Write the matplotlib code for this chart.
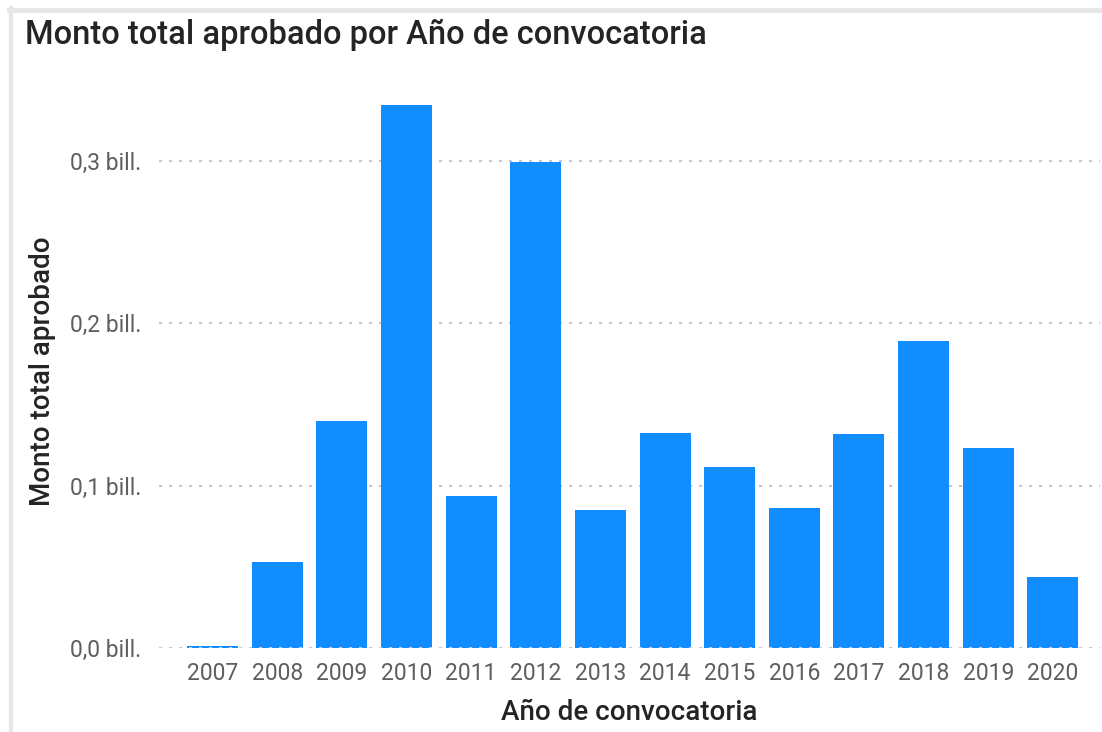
import matplotlib.pyplot as plt
from matplotlib.lines import Line2D

plt.rcParams["font.family"] = ["Roboto", "DejaVu Sans"]

years = ["2007", "2008", "2009", "2010", "2011", "2012", "2013",
         "2014", "2015", "2016", "2017", "2018", "2019", "2020"]
# monto total aprobado, en billones
montos = [0.001, 0.053, 0.140, 0.3346, 0.0938, 0.2994, 0.0852,
          0.1327, 0.1117, 0.0864, 0.132, 0.189, 0.1235, 0.0438]
y_ticks = [0.0, 0.1, 0.2, 0.3]
y_tick_labels = ["0,0 bill.", "0,1 bill.", "0,2 bill.", "0,3 bill."]

BAR_COLOR = "#118DFF"
TEXT_DARK = "#252423"
TEXT_GRAY = "#605E5C"

fig = plt.figure(figsize=(11.02, 7.32), dpi=100)
ax = fig.add_axes([159 / 1102, 84 / 732, 941 / 1102, 553 / 732])

x = list(range(len(years)))
ax.bar(x, montos, width=0.79, color=BAR_COLOR, zorder=2)

ax.set_xlim(-0.83, 13.73)
ax.set_ylim(0, 0.3407)
ax.set_xticks(x)
ax.set_xticklabels(years)
ax.set_yticks(y_ticks)
ax.set_yticklabels(y_tick_labels)
ax.tick_params(axis="both", length=0, labelsize=16.5, labelcolor=TEXT_GRAY)
ax.tick_params(axis="x", pad=10)
ax.tick_params(axis="y", pad=13)

for t in y_ticks:
    ax.axhline(t, color="#C8C8C8", linewidth=1.5, dashes=(1.5, 3.3),
               zorder=1 if t > 0 else 3)

for s in ax.spines.values():
    s.set_visible(False)

ax.set_xlabel("Año de convocatoria", fontsize=20, color=TEXT_DARK,
              fontweight="medium", labelpad=10)
ax.set_ylabel("Monto total aprobado", fontsize=20, color=TEXT_DARK,
              fontweight="medium", labelpad=10)

fig.text(25 / 1102, 1 - 35 / 732, "Monto total aprobado por Año de convocatoria",
         fontsize=23.5, color=TEXT_DARK, fontweight="medium",
         va="center", ha="left")

# borde gris del visual
fig.add_artist(Line2D([9 / 1102, 1], [1 - 10 / 732, 1 - 10 / 732],
                      color="#E6E6E6", linewidth=3.5, transform=fig.transFigure))
fig.add_artist(Line2D([11 / 1102, 11 / 1102], [0, 1 - 8 / 732],
                      color="#E6E6E6", linewidth=3, transform=fig.transFigure))

fig.savefig("out.png", dpi=100)
